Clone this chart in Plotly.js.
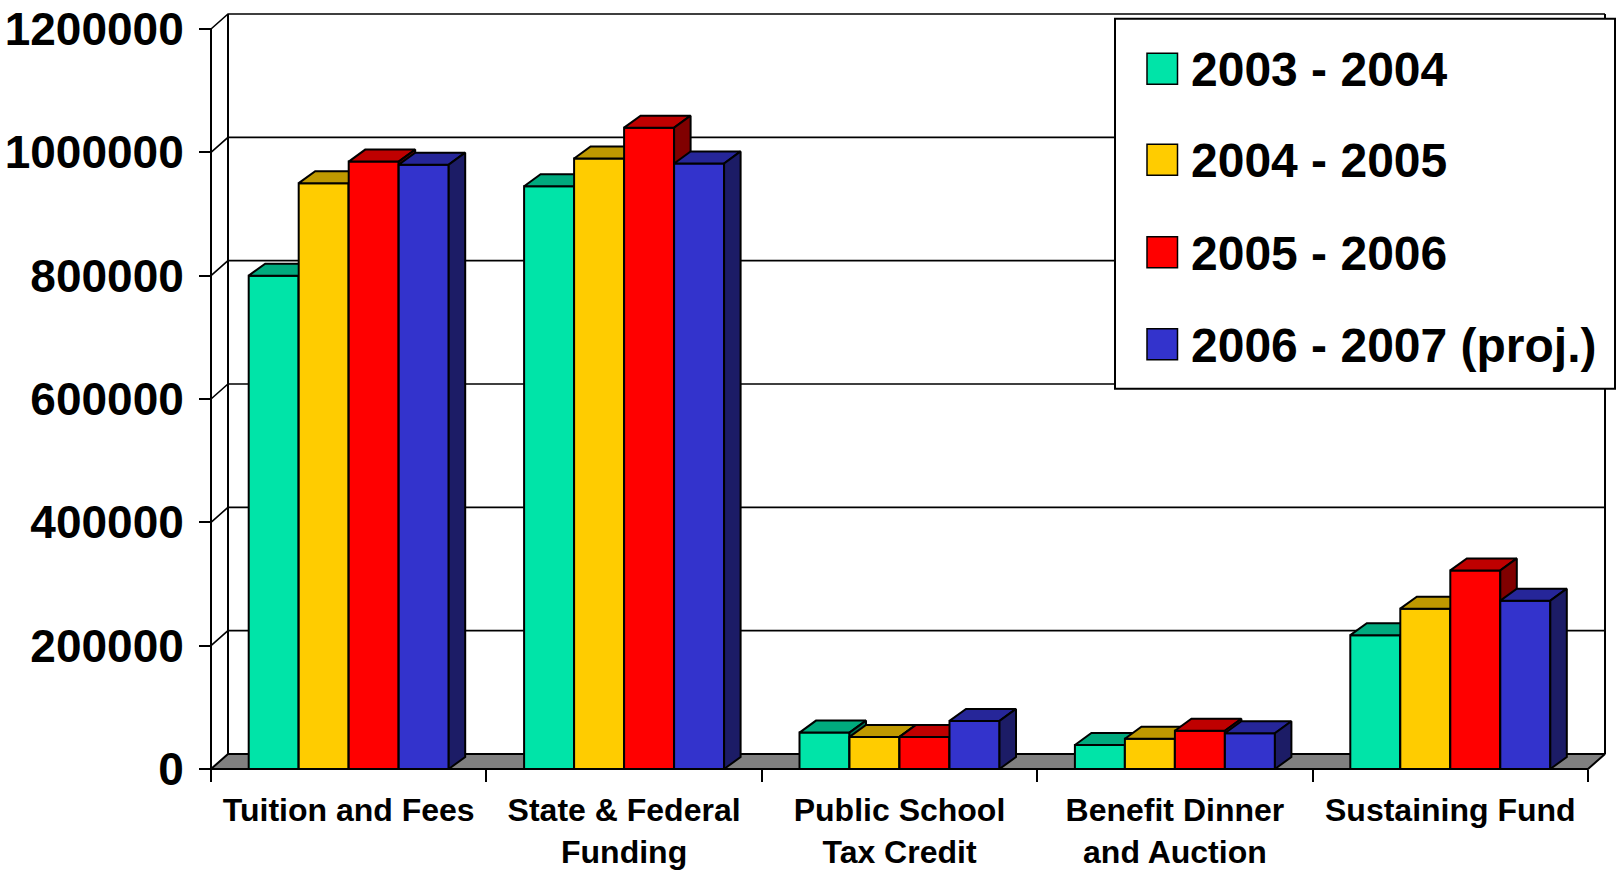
<!DOCTYPE html>
<html><head><meta charset="utf-8">
<script src="https://cdn.plot.ly/plotly-3.0.1.min.js"></script>
<style>html,body{margin:0;padding:0;background:#fff}#chart{width:1621px;height:871px}</style>
</head><body><div id="chart"></div>
<script>
// ---------- data ----------
const categories = ['Tuition and Fees', 'State & Federal<br>Funding', 'Public School<br>Tax Credit', 'Benefit Dinner<br>and Auction', 'Sustaining Fund'];
const seriesNames = ['2003 - 2004', '2004 - 2005', '2005 - 2006', '2006 - 2007 (proj.)'];
const values2003_04 = [800000, 945000, 59000, 39000, 217000];
const values2004_05 = [950000, 990000, 52000, 49000, 260000];
const values2005_06 = [985000, 1040000, 52000, 62000, 322000];
const values2006_07 = [980000, 982000, 78000, 58000, 273000];
const yTickValues = [0, 200000, 400000, 600000, 800000, 1000000, 1200000];
const yTickLabels = ['0', '200000', '400000', '600000', '800000', '1000000', '1200000'];

// ---------- style ----------
const seriesValues = [values2003_04, values2004_05, values2005_06, values2006_07];
const frontColors = ['#00E4A8', '#FFCC00', '#FF0000', '#3333CC'];
const topColors   = ['#00AA7E', '#BF9900', '#BF0000', '#262699'];
const sideColors  = ['#007454', '#806600', '#800000', '#1C1C66'];
const FONT = 'Liberation Sans, Arial, Helvetica, sans-serif';

const W = 1621, H = 871;
const X0 = 211, UX = 275.4;            // pixel of x=0, pixels per category
const Y0 = 769, UY = (769 - 29.3) / 1200000; // pixel of y=0, pixels per unit
const YMAX = 1200000;
const NB = seriesNames.length;
const BW = 50 / UX;                    // bar width (category units)
const GAP = (1 - NB * BW) / 2;
const BDX = 16.5 / UX, BDY = 12 / UY;  // bar depth
const WDX = 17 / UX, WDY = 15 / UY;    // wall depth
const PAD = 4;
const NC = categories.length;
const xMaxVal = NC + WDX;
const yMaxVal = YMAX + WDY;
const ml = X0 - PAD;
const plotRightPx = X0 + xMaxVal * UX + PAD;
const mr = W - plotRightPx;
const plotBottomPx = Y0 + PAD;
const mb = H - plotBottomPx;
const mt = Y0 - yMaxVal * UY - PAD;
const plotW = plotRightPx - ml, plotH = plotBottomPx - mt;
const px2paperX = px => (px - ml) / plotW;
const px2paperY = py => (plotBottomPx - py) / plotH;

const traces = [];
// floor
traces.push({
  type: 'scatter', mode: 'lines', fill: 'toself', fillcolor: '#808080',
  x: [0, NC, NC + WDX, WDX, 0], y: [0, 0, WDY, WDY, 0],
  line: {color: '#000', width: 2}, hoverinfo: 'skip', showlegend: false
});
// gridlines on side wall and back wall
const gx = [], gy = [];
yTickValues.forEach(v => {
  if (v === 0) return;
  gx.push(0, WDX, NC + WDX, null);
  gy.push(v, v + WDY, v + WDY, null);
});
traces.push({
  type: 'scatter', mode: 'lines', x: gx, y: gy,
  line: {color: '#000', width: 1.6}, hoverinfo: 'skip', showlegend: false
});
// frame: front axis, back wall edges
traces.push({
  type: 'scatter', mode: 'lines',
  x: [0, 0, null, WDX, WDX, null, NC + WDX, NC + WDX],
  y: [0, YMAX, null, WDY, YMAX + WDY, null, WDY, YMAX + WDY],
  line: {color: '#000', width: 2}, hoverinfo: 'skip', showlegend: false
});
// bars: front, top, side faces
seriesValues.forEach((vals, s) => {
  const fx = [], fy = [], tx = [], ty = [], sx = [], sy = [];
  vals.forEach((v, i) => {
    const L = i + GAP + s * BW, R = L + BW;
    fx.push(L, R, R, L, L, null); fy.push(0, 0, v, v, 0, null);
    tx.push(L, R, R + BDX, L + BDX, L, null); ty.push(v, v, v + BDY, v + BDY, v, null);
    sx.push(R, R + BDX, R + BDX, R, R, null); sy.push(0, BDY, v + BDY, v, 0, null);
  });
  [[fx, fy, frontColors[s]], [tx, ty, topColors[s]], [sx, sy, sideColors[s]]].forEach(([x, y, c]) => {
    traces.push({
      type: 'scatter', mode: 'lines', fill: 'toself', fillcolor: c, x, y,
      line: {color: '#000', width: 2}, hoverinfo: 'skip', showlegend: false, name: seriesNames[s]
    });
  });
});

// manual legend
const LG = {left: 1115, right: 1615, top: 19, bottom: 389};
const rowY = [69, 160, 252.5, 344.5];
const shapes = [{
  type: 'rect', xref: 'paper', yref: 'paper', layer: 'above',
  x0: px2paperX(LG.left), x1: px2paperX(LG.right), y0: px2paperY(LG.top), y1: px2paperY(LG.bottom),
  fillcolor: '#fff', line: {color: '#000', width: 2}
}];
const annotations = [];
seriesNames.forEach((name, s) => {
  shapes.push({
    type: 'rect', xref: 'paper', yref: 'paper', layer: 'above',
    x0: px2paperX(1147), x1: px2paperX(1177.5), y0: px2paperY(rowY[s] - 15.5), y1: px2paperY(rowY[s] + 15.5),
    fillcolor: frontColors[s], line: {color: '#000', width: 1.5}
  });
  annotations.push({
    xref: 'paper', yref: 'paper', x: px2paperX(1189), y: px2paperY(rowY[s] + 1),
    xanchor: 'left', yanchor: 'middle', showarrow: false, text: name,
    font: {family: FONT, size: 48, color: '#000', weight: 'bold'}
  });
});

const layout = {
  width: W, height: H,
  margin: {l: ml, r: mr, t: mt, b: mb, autoexpand: false},
  paper_bgcolor: '#fff', plot_bgcolor: 'rgba(0,0,0,0)',
  showlegend: false,
  xaxis: {
    range: [-PAD / UX, xMaxVal + PAD / UX], anchor: 'free', position: PAD / plotH,
    showgrid: false, zeroline: false, showline: false,
    tickmode: 'array', tickvals: categories.map((c, i) => i + 0.5), ticktext: categories,
    ticks: '', ticklabelstandoff: 19,
    tickfont: {family: FONT, size: 32, color: '#000', weight: 'bold'},
    minor: {tickmode: 'array', tickvals: categories.map((c, i) => i).concat([NC]), ticks: 'outside', ticklen: 12, tickwidth: 2, tickcolor: '#000', showgrid: false},
    fixedrange: true
  },
  yaxis: {
    range: [-PAD / UY, yMaxVal + PAD / UY], anchor: 'free', position: PAD / plotW,
    showgrid: false, zeroline: false, showline: false,
    tickmode: 'array', tickvals: yTickValues, ticktext: yTickLabels,
    ticks: 'outside', ticklen: 12, tickwidth: 2, tickcolor: '#000', ticklabelstandoff: 6,
    tickfont: {family: FONT, size: 46, color: '#000', weight: 'bold'},
    fixedrange: true
  },
  shapes, annotations
};
Plotly.newPlot('chart', traces, layout, {displayModeBar: false, staticPlot: true});
</script></body></html>
